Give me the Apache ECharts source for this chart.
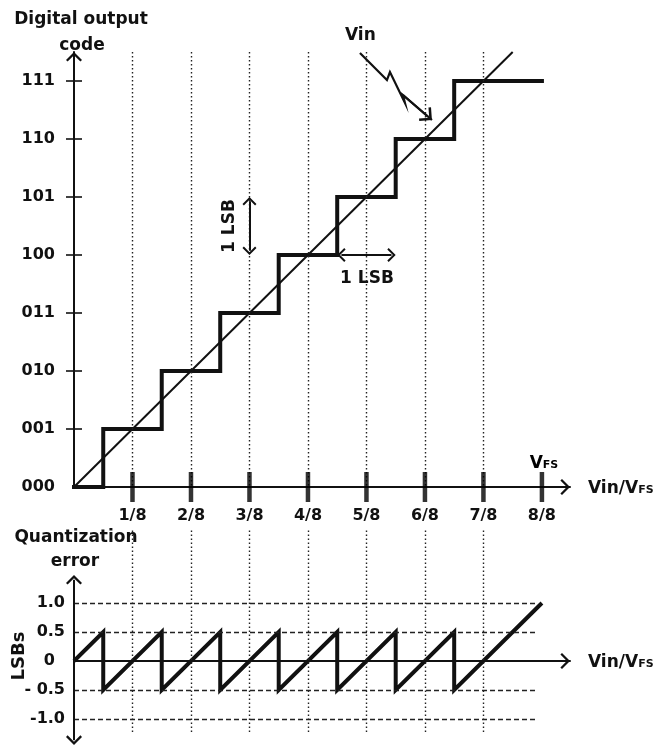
<!DOCTYPE html>
<html><head><meta charset="utf-8">
<script src="https://cdn.jsdelivr.net/npm/echarts@6/dist/echarts.min.js"></script>
<style>html,body{margin:0;padding:0;background:#fff;}#c{width:658px;height:747px;}</style>
</head><body><div id="c"></div>
<script>
// ---- data ----
const stepX = [0, 0.0625, 0.1875, 0.3125, 0.4375, 0.5625, 0.6875, 0.8125, 1.0];
const stepCode = [0, 1, 2, 3, 4, 5, 6, 7, 7];
const vinX = [0, 0.9375];
const vinY = [0, 7.5];
const errX = [0, 0.0625, 0.0625, 0.1875, 0.1875, 0.3125, 0.3125, 0.4375, 0.4375, 0.5625, 0.5625, 0.6875, 0.6875, 0.8125, 0.8125, 1.0];
const errY = [0, 0.5, -0.5, 0.5, -0.5, 0.5, -0.5, 0.5, -0.5, 0.5, -0.5, 0.5, -0.5, 0.5, -0.5, 1.0];
const fracTicks = [0.125, 0.25, 0.375, 0.5, 0.625, 0.75, 0.875, 1.0];
const fracLabels = ['1/8', '2/8', '3/8', '4/8', '5/8', '6/8', '7/8', '8/8'];
const guideFracs = [0.125, 0.25, 0.375, 0.5, 0.625, 0.75, 0.875];
const codeTicks = [0, 1, 2, 3, 4, 5, 6, 7];
const codeLabels = ['000', '001', '010', '011', '100', '101', '110', '111'];
const errTicks = [-1.0, -0.5, 0, 0.5, 1.0];
const errLabels = ['-1.0', '- 0.5', '{z|0}', '0.5', '1.0'];
const errGrid = [-1.0, -0.5, 0.5, 1.0];
// annotation arrow (Vin pointer) in data units
const vinPtrX = [0.6111, 0.6688, 0.6752, 0.7073, 0.7030, 0.7650];
const vinPtrY = [7.483, 7.017, 7.155, 6.621, 6.759, 6.328];

const FONT = '"DejaVu Sans", "Liberation Sans", Arial, sans-serif';
const INK = '#111';
const CHEV = 'path://M0,10 L10,0 L20,10 L18,12 L10,4 L2,12 Z';

function pick(ticks, labels) {
  return function (v) {
    const i = ticks.findIndex(t => Math.abs(t - v) < 1e-6);
    return i >= 0 ? labels[i] : '';
  };
}
const nameRich = {
  a: { fontFamily: FONT, fontWeight: 'bold', fontSize: 17, color: INK, verticalAlign: 'bottom', lineHeight: 20 },
  b: { fontFamily: FONT, fontWeight: 'bold', fontSize: 11, color: INK, verticalAlign: 'bottom', lineHeight: 20, padding: [0, 0, 1, 0] }
};
const dotted = { type: [1.5, 2.5], width: 1.4, color: '#222' };

const chart = echarts.init(document.getElementById('c'), null, { renderer: 'canvas' });
const option = {
  animation: false,
  backgroundColor: '#fff',
  grid: [
    { left: 74, width: 496, top: 52, height: 435, outerBoundsMode: 'none', containLabel: false },
    { left: 74, width: 496, top: 530.5, height: 217.5, outerBoundsMode: 'none', containLabel: false }
  ],
  xAxis: [
    {
      type: 'value', gridIndex: 0, min: 0, max: 1.06, interval: 0.125,
      axisLine: { show: true, lineStyle: { color: INK, width: 2 }, symbol: ['none', CHEV], symbolSize: [16, 9.6], symbolOffset: [0, -4.8] },
      axisTick: { show: false }, splitLine: { show: false },
      axisLabel: { formatter: pick(fracTicks, fracLabels), fontFamily: FONT, fontWeight: 'bold', fontSize: 16, color: INK, margin: 21, showMinLabel: true, showMaxLabel: true },
      name: '{a|Vin/V}{b|FS}', nameLocation: 'end', nameGap: 18, nameTextStyle: { rich: nameRich }
    },
    {
      type: 'value', gridIndex: 1, min: 0, max: 1.06, interval: 0.125,
      axisLine: { show: true, onZero: true, lineStyle: { color: INK, width: 2 }, symbol: ['none', CHEV], symbolSize: [16, 9.6], symbolOffset: [0, -4.8] },
      axisTick: { show: false }, splitLine: { show: false }, axisLabel: { show: false },
      name: '{a|Vin/V}{b|FS}', nameLocation: 'end', nameGap: 18, nameTextStyle: { rich: nameRich }
    }
  ],
  yAxis: [
    {
      type: 'value', gridIndex: 0, min: 0, max: 7.5, interval: 1,
      axisLine: { show: true, lineStyle: { color: INK, width: 2 }, symbol: ['none', CHEV], symbolSize: [16, 9.6], symbolOffset: [0, -4.8] },
      axisTick: { show: false }, splitLine: { show: false },
      axisLabel: { formatter: pick(codeTicks, codeLabels), fontFamily: FONT, fontWeight: 'bold', fontSize: 16, color: INK, margin: 19 }
    },
    {
      type: 'value', gridIndex: 1, min: -1.5, max: 2.25, interval: 0.5,
      axisLine: { show: false }, axisTick: { show: false }, splitLine: { show: false },
      axisLabel: {
        formatter: pick(errTicks, errLabels), fontFamily: FONT, fontWeight: 'bold', fontSize: 16, color: INK, margin: 9,
        rich: { z: { fontFamily: FONT, fontWeight: 'bold', fontSize: 16, color: INK, padding: [0, 10, 0, 0] } }
      }
    }
  ],
  series: [
    // dotted vertical guides, top panel
    {
      type: 'line', xAxisIndex: 0, yAxisIndex: 0, data: [], z: 1, silent: true,
      markLine: {
        silent: true, symbol: ['none', 'none'], label: { show: false }, lineStyle: dotted, animation: false,
        emphasis: { disabled: true },
        data: guideFracs.map(f => [{ coord: [f, 7.5] }, { coord: [f, 0] }])
      }
    },
    // dotted vertical + dashed horizontal guides, bottom panel
    {
      type: 'line', xAxisIndex: 1, yAxisIndex: 1, data: [], z: 1, silent: true,
      markLine: {
        silent: true, symbol: ['none', 'none'], label: { show: false }, animation: false,
        emphasis: { disabled: true },
        data: guideFracs.map(f => [{ coord: [f, 2.25], lineStyle: dotted }, { coord: [f, -1.24] }])
          .concat(errGrid.map(v => [{ coord: [0, v], lineStyle: { type: [5, 3], width: 1.4, color: '#222' } }, { coord: [0.99, v] }]))
      }
    },
    // staircase transfer function
    {
      type: 'line', xAxisIndex: 0, yAxisIndex: 0, step: 'end', clip: false, z: 4,
      symbol: 'none', lineStyle: { color: INK, width: 4, join: 'miter', cap: 'square' },
      data: stepX.map((x, i) => [x, stepCode[i]])
    },
    // ideal Vin line
    {
      type: 'line', xAxisIndex: 0, yAxisIndex: 0, clip: false, z: 4,
      symbol: 'none', lineStyle: { color: INK, width: 2 },
      data: vinX.map((x, i) => [x, vinY[i]])
    },
    // thick x ticks
    {
      type: 'scatter', xAxisIndex: 0, yAxisIndex: 0, clip: false, z: 5, silent: true,
      symbol: 'rect', symbolSize: [4.5, 30], itemStyle: { color: '#000' },
      data: fracTicks.map(x => [x, 0])
    },
    // thin y ticks
    {
      type: 'scatter', xAxisIndex: 0, yAxisIndex: 0, clip: false, z: 5, silent: true,
      symbol: 'rect', symbolSize: [16, 2], itemStyle: { color: INK },
      data: codeTicks.slice(1).map(v => [0, v])
    },
    // Vin pointer (zig-zag) with arrow head
    {
      type: 'line', xAxisIndex: 0, yAxisIndex: 0, clip: false, z: 5, silent: true,
      symbol: 'none', lineStyle: { color: INK, width: 2.2, join: 'miter' },
      data: vinPtrX.map((x, i) => [x, vinPtrY[i]]),
      markLine: {
        silent: true, label: { show: false }, animation: false, emphasis: { disabled: true },
        symbol: ['none', CHEV], symbolSize: [18, 10.8], lineStyle: { color: INK, width: 2.2, type: 'solid' },
        data: [[{ coord: [0.7030, 6.759] }, { coord: [0.7562, 6.388] }]]
      }
    },
    // 1 LSB double arrows
    {
      type: 'line', xAxisIndex: 0, yAxisIndex: 0, data: [], z: 5, silent: true,
      markLine: {
        silent: true, label: { show: false }, animation: false, emphasis: { disabled: true },
        symbol: [CHEV, CHEV], symbolSize: [14, 8.4], lineStyle: { color: INK, width: 2, type: 'solid' },
        data: [
          [{ coord: [0.375, 4.072] }, { coord: [0.375, 4.928] }],
          [{ coord: [0.5715, 4] }, { coord: [0.6785, 4] }]
        ]
      }
    },
    // quantization error sawtooth
    {
      type: 'line', xAxisIndex: 1, yAxisIndex: 1, clip: false, z: 4,
      symbol: 'none', lineStyle: { color: INK, width: 4, join: 'miter' },
      data: errX.map((x, i) => [x, errY[i]])
    },
    // bottom y axis with arrows at both ends
    {
      type: 'line', xAxisIndex: 1, yAxisIndex: 1, data: [], z: 5, silent: true,
      markLine: {
        silent: true, label: { show: false }, animation: false, emphasis: { disabled: true },
        symbol: [CHEV, CHEV], symbolSize: [16, 9.6], lineStyle: { color: INK, width: 2, type: 'solid' },
        data: [[{ coord: [0, -1.365] }, { coord: [0, 1.40] }]]
      }
    }
  ],
  graphic: [
    { type: 'text', x: 81, y: 20, style: { text: 'Digital output', font: 'bold 17px ' + FONT, fill: INK, align: 'center', verticalAlign: 'middle' } },
    { type: 'text', x: 82, y: 46, style: { text: 'code', font: 'bold 17px ' + FONT, fill: INK, align: 'center', verticalAlign: 'middle' } },
    { type: 'text', x: 345, y: 36, style: { text: 'Vin', font: 'bold 17px ' + FONT, fill: INK, align: 'left', verticalAlign: 'middle' } },
    { type: 'text', x: 544, y: 462, style: { text: '{a|V}{b|FS}', rich: nameRich, align: 'center', verticalAlign: 'middle' } },
    { type: 'text', x: 230, y: 226, rotation: Math.PI / 2, style: { text: '1 LSB', font: 'bold 17px ' + FONT, fill: INK, align: 'center', verticalAlign: 'middle' } },
    { type: 'text', x: 367, y: 279, style: { text: '1 LSB', font: 'bold 17px ' + FONT, fill: INK, align: 'center', verticalAlign: 'middle' } },
    { type: 'text', x: 76, y: 538, style: { text: 'Quantization', font: 'bold 17px ' + FONT, fill: INK, align: 'center', verticalAlign: 'middle' } },
    { type: 'text', x: 75, y: 562, style: { text: 'error', font: 'bold 17px ' + FONT, fill: INK, align: 'center', verticalAlign: 'middle' } },
    { type: 'text', x: 19, y: 656, rotation: Math.PI / 2, style: { text: 'LSBs', font: 'bold 18px ' + FONT, fill: INK, align: 'center', verticalAlign: 'middle' } }
  ]
};
chart.setOption(option);
</script>
</body></html>
